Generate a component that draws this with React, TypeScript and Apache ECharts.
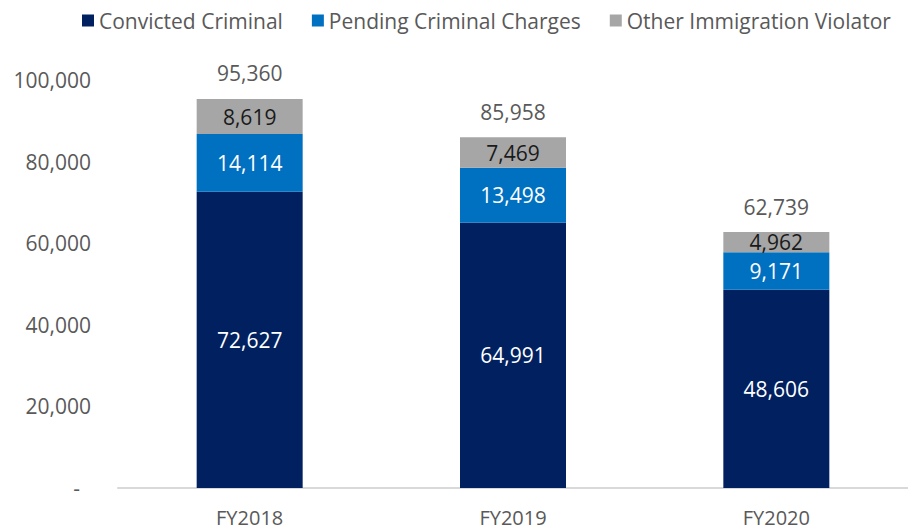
import React, { useEffect, useRef } from "react";
import * as echarts from "echarts";

const categories = ["FY2018", "FY2019", "FY2020"];
const convicted = [72627, 64991, 48606];
const pending = [14114, 13498, 9171];
const other = [8619, 7469, 4962];
const totals = [95360, 85958, 62739];
const seriesNames = ["Convicted Criminal", "Pending Criminal Charges", "Other Immigration Violator"];

const FONT = "'Open Sans', sans-serif";
const fmt = (v: number) => v.toLocaleString("en-US");

export default function App() {
  const ref = useRef<HTMLDivElement>(null);
  useEffect(() => {
    if (!ref.current) return;
    const chart = echarts.init(ref.current, undefined, { renderer: "svg" });
    const inLabel = (color: string) => ({
      show: true,
      position: "inside" as const,
      color,
      fontFamily: FONT,
      fontSize: 21,
      formatter: (p: any) => fmt(p.value),
    });
    chart.setOption({
      animation: false,
      textStyle: { fontFamily: FONT },
      legend: {
        data: seriesNames,
        left: 77,
        top: 5,
        icon: "rect",
        itemWidth: 12,
        itemHeight: 12,
        itemGap: 29,
        textStyle: { color: "#595959", fontSize: 21, fontFamily: FONT },
      },
      grid: { left: 118, right: -11, top: 80, bottom: 43, containLabel: false },
      xAxis: {
        type: "category",
        data: categories,
        axisLine: { show: true, lineStyle: { color: "#D9D9D9", width: 2 } },
        axisTick: { show: false },
        axisLabel: { color: "#595959", fontSize: 20, fontFamily: FONT, margin: 19 },
      },
      yAxis: {
        type: "value",
        min: 0,
        max: 100000,
        interval: 20000,
        splitLine: { show: false },
        axisLine: { show: false },
        axisTick: { show: false },
        axisLabel: {
          color: "#595959",
          fontSize: 21,
          fontFamily: FONT,
          margin: 27,
          formatter: (v: number) => (v === 0 ? "{d|-}" : fmt(v)),
          rich: { d: { color: "#595959", fontSize: 21, fontFamily: FONT, padding: [0, 11, 0, 0] } },
        },
      },
      series: [
        {
          name: seriesNames[0],
          type: "bar",
          stack: "total",
          barWidth: 106,
          data: convicted,
          itemStyle: { color: "#002060" },
          label: inLabel("#FFFFFF"),
        },
        {
          name: seriesNames[1],
          type: "bar",
          stack: "total",
          barWidth: 106,
          data: pending,
          itemStyle: { color: "#0070C0" },
          label: inLabel("#FFFFFF"),
        },
        {
          name: seriesNames[2],
          type: "bar",
          stack: "total",
          barWidth: 106,
          data: other,
          itemStyle: { color: "#A6A6A6" },
          label: inLabel("#1a1a1a"),
        },
        {
          name: "Total",
          type: "bar",
          barWidth: 106,
          barGap: "-100%",
          data: totals,
          itemStyle: { color: "rgba(0,0,0,0)" },
          silent: true,
          z: 1,
          label: {
            show: true,
            position: "top",
            distance: 15,
            color: "#595959",
            fontSize: 21,
            fontFamily: FONT,
            formatter: (p: any) => fmt(p.value),
          },
        },
      ],
    });
    return () => chart.dispose();
  }, []);
  return (
    <div
      ref={ref}
      style={{ position: "fixed", left: 0, top: 0, width: 908, height: 531, background: "#fff" }}
    />
  );
}
